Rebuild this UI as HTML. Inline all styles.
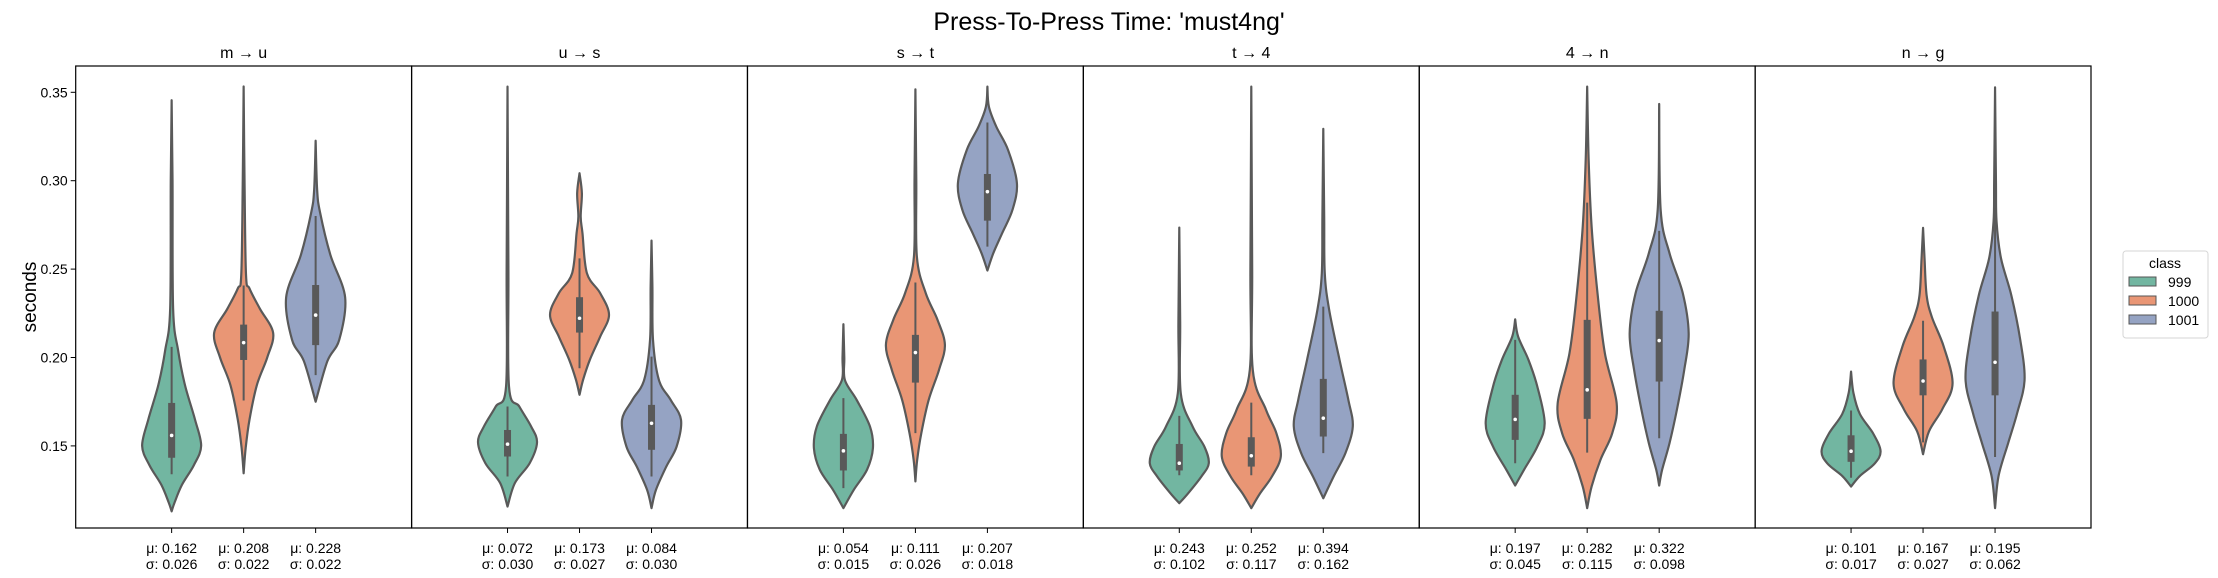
<!DOCTYPE html>
<html><head><meta charset="utf-8">
<style>
html,body{margin:0;padding:0;background:#fff;}
svg{display:block;font-family:"Liberation Sans","DejaVu Sans",sans-serif;}
</style></head>
<body>
<svg id="chart" width="2218" height="578" viewBox="0 0 2218 578" xmlns="http://www.w3.org/2000/svg">
<text x="1109" y="30" text-anchor="middle" font-size="25" fill="#000">Press-To-Press Time: 'must4ng'</text>
<text transform="translate(36,297) rotate(-90)" text-anchor="middle" font-size="19" fill="#000">seconds</text>
<g id="axes"></g>
<g id="legend">
<rect x="2123" y="251" width="85" height="87" rx="3" fill="#fff" stroke="#d6d6d6"/>
<text x="2165" y="268" text-anchor="middle" font-size="14">class</text>
<rect x="2129" y="277" width="27" height="9" fill="#72b6a1" stroke="#555"/>
<text x="2168" y="287" font-size="14">999</text>
<rect x="2129" y="296" width="27" height="9" fill="#e99675" stroke="#555"/>
<text x="2168" y="306" font-size="14">1000</text>
<rect x="2129" y="315" width="27" height="9" fill="#95a3c3" stroke="#555"/>
<text x="2168" y="325" font-size="14">1001</text>
</g>
</svg>
<script>
const panels = ["m → u","u → s","s → t","t → 4","4 → n","n → g"];
const classes = ["999","1000","1001"];
const yTicks = [0.15,0.20,0.25,0.30,0.35];
const means = [[0.162,0.208,0.228],[0.072,0.173,0.084],[0.054,0.111,0.207],[0.243,0.252,0.394],[0.197,0.282,0.322],[0.101,0.167,0.195]];
const sds = [[0.026,0.022,0.022],[0.030,0.027,0.030],[0.015,0.026,0.018],[0.102,0.117,0.162],[0.045,0.115,0.098],[0.017,0.027,0.062]];
// box stats: [whiskerLow, q1, median, q3, whiskerHigh]
const boxStats = [
 [[0.134,0.1433,0.1559,0.1743,0.206],[0.1757,0.1986,0.2084,0.2186,0.2407],[0.190,0.207,0.224,0.241,0.280]],
 [[0.1327,0.144,0.151,0.159,0.1723],[0.1939,0.2141,0.2222,0.2341,0.2561],[0.1327,0.1478,0.1628,0.1732,0.2005]],
 [[0.1261,0.1361,0.1472,0.1568,0.1770],[0.1572,0.1858,0.2028,0.2128,0.2424],[0.2627,0.2774,0.2938,0.3038,0.3329]],
 [[0.1334,0.1361,0.1402,0.1511,0.167],[0.1334,0.1383,0.1444,0.1549,0.1745],[0.1459,0.1553,0.1657,0.1879,0.2288]],
 [[0.1402,0.1534,0.165,0.1789,0.2100],[0.1462,0.1653,0.1817,0.2213,0.2876],[0.1543,0.1864,0.2096,0.2264,0.2716]],
 [[0.132,0.141,0.147,0.156,0.170],[0.152,0.1786,0.1867,0.1989,0.2208],[0.1437,0.1786,0.1973,0.226,0.2844]]
];
// density profiles: [value, relative half-width], ordered top to bottom
const profiles = [
 [
  [[0.3455,0],[0.30,0.03],[0.2276,0.05],[0.204,0.22],[0.1845,0.45],[0.165,0.79],[0.150,1],[0.139,0.75],[0.128,0.35],[0.118,0.1],[0.113,0]],
  [[0.3533,0],[0.30,0.03],[0.247,0.08],[0.239,0.2],[0.2276,0.55],[0.2139,1],[0.200,0.8],[0.1845,0.45],[0.165,0.2],[0.149,0.07],[0.1345,0]],
  [[0.3226,0],[0.295,0.05],[0.282,0.15],[0.258,0.5],[0.234,1],[0.210,0.8],[0.198,0.4],[0.175,0]]
 ],
 [
  [[0.3532,0],[0.25,0.03],[0.1836,0.05],[0.1723,0.4],[0.161,0.8],[0.152,1],[0.1402,0.75],[0.129,0.25],[0.1157,0]],
  [[0.3042,0],[0.2929,0.08],[0.2797,0.04],[0.2703,0.1],[0.2477,0.25],[0.2364,0.7],[0.2241,1],[0.2118,0.7],[0.1987,0.35],[0.1873,0.12],[0.1789,0]],
  [[0.2661,0],[0.24,0.03],[0.210,0.05],[0.1873,0.25],[0.176,0.65],[0.1647,1],[0.1496,0.85],[0.1383,0.5],[0.1251,0.15],[0.1148,0]]
 ],
 [
  [[0.2188,0],[0.20,0.03],[0.1873,0.05],[0.176,0.45],[0.161,0.9],[0.1487,1],[0.1365,0.8],[0.1251,0.35],[0.1148,0]],
  [[0.3517,0],[0.30,0.03],[0.257,0.05],[0.2364,0.35],[0.2213,0.75],[0.2071,1],[0.193,0.8],[0.176,0.45],[0.1572,0.2],[0.1421,0.06],[0.1299,0]],
  [[0.3532,0],[0.3419,0.05],[0.3306,0.3],[0.3174,0.7],[0.2986,1],[0.2835,0.85],[0.2703,0.5],[0.259,0.2],[0.2492,0]]
 ],
 [
  [[0.2735,0],[0.22,0.03],[0.1798,0.05],[0.161,0.45],[0.1496,0.85],[0.1402,1],[0.1327,0.75],[0.1232,0.3],[0.1176,0]],
  [[0.3532,0],[0.25,0.03],[0.193,0.05],[0.1704,0.5],[0.1572,0.85],[0.1440,1],[0.1327,0.7],[0.1232,0.3],[0.1148,0]],
  [[0.3293,0],[0.28,0.03],[0.2477,0.05],[0.2269,0.2],[0.1987,0.55],[0.176,0.85],[0.161,1],[0.1459,0.75],[0.1327,0.35],[0.1204,0]]
 ],
 [
  [[0.2216,0],[0.2118,0.1],[0.1987,0.45],[0.1836,0.75],[0.1628,1],[0.1496,0.75],[0.1365,0.3],[0.1276,0]],
  [[0.3532,0],[0.3118,0.05],[0.2741,0.15],[0.2364,0.35],[0.2024,0.6],[0.1741,1],[0.1572,0.85],[0.1421,0.45],[0.127,0.15],[0.1148,0]],
  [[0.3434,0],[0.2835,0.05],[0.259,0.35],[0.2364,0.8],[0.2137,1],[0.193,0.85],[0.1704,0.6],[0.1515,0.35],[0.1365,0.1],[0.1276,0]]
 ],
 [
  [[0.192,0],[0.180,0.08],[0.168,0.3],[0.157,0.75],[0.147,1],[0.140,0.8],[0.133,0.3],[0.127,0]],
  [[0.2733,0],[0.2562,0.05],[0.2353,0.12],[0.2228,0.3],[0.2062,0.7],[0.1853,1],[0.1707,0.65],[0.1582,0.2],[0.1453,0]],
  [[0.3528,0],[0.30,0.03],[0.2771,0.05],[0.2562,0.2],[0.2353,0.55],[0.2104,0.85],[0.1874,1],[0.1686,0.75],[0.1519,0.45],[0.1331,0.12],[0.1148,0]]
 ]
];
const fills = ["#72b6a1","#e99675","#95a3c3"];
const plotL = 75.7, plotR = 2091, plotT = 66, plotB = 528;
const panelW = (plotR - plotL) / panels.length;
const maxHalf = 29.5, dodge = 72;
function yScale(v){ return 92.3 + (0.35 - v) * 1768; }
function xCenter(p, c){ return plotL + panelW * p + panelW / 2 + (c - 1) * dodge; }
const NS = "http://www.w3.org/2000/svg";
const axes = document.getElementById("axes");
function mk(tag, attrs, parent){ const e = document.createElementNS(NS, tag); for (const k in attrs) e.setAttribute(k, attrs[k]); (parent||axes).appendChild(e); return e; }
function smoothPath(pts){
  let d = "M" + pts[0][0].toFixed(2) + "," + pts[0][1].toFixed(2);
  for (let i = 0; i < pts.length - 1; i++) {
    const p0 = pts[Math.max(0, i - 1)], p1 = pts[i], p2 = pts[i + 1], p3 = pts[Math.min(pts.length - 1, i + 2)];
    const c1x = p1[0] + (p2[0] - p0[0]) / 6, c1y = p1[1] + (p2[1] - p0[1]) / 6;
    const c2x = p2[0] - (p3[0] - p1[0]) / 6, c2y = p2[1] - (p3[1] - p1[1]) / 6;
    d += " C" + c1x.toFixed(2) + "," + c1y.toFixed(2) + " " + c2x.toFixed(2) + "," + c2y.toFixed(2) + " " + p2[0].toFixed(2) + "," + p2[1].toFixed(2);
  }
  return d;
}
// y ticks
yTicks.forEach(function(t){
  const y = yScale(t);
  const tk = mk("line", {x1: plotL - 5, x2: plotL, y1: y, y2: y, stroke: "#000", "stroke-width": 1});
  
  
  const tl = mk("text", {x: plotL - 8, y: y + 5, "text-anchor": "end", "font-size": 14});
  
  
  tl.textContent = t.toFixed(2);
});
panels.forEach(function(name, p){
  const x0 = plotL + panelW * p;
  const g = mk("g", {});
  
  
  const fr = mk("rect", {x: x0, y: plotT, width: panelW, height: plotB - plotT, fill: "none", stroke: "#000", "stroke-width": 1.2}, g);
  
  
  const pt = mk("text", {x: x0 + panelW / 2, y: 58, "text-anchor": "middle", "font-size": 16}, g);
  
  
  pt.textContent = name;
  classes.forEach(function(cls, c){
    const cx = xCenter(p, c);
    const prof = profiles[p][c];
    const right = prof.map(function(k){ return [cx + k[1] * maxHalf, yScale(k[0])]; });
    const left = prof.slice().reverse().map(function(k){ return [cx - k[1] * maxHalf, yScale(k[0])]; });
    let d = smoothPath(right);
    d += " L" + smoothPath(left).slice(1) + " Z";
    const v = mk("path", {d: d, fill: fills[c], stroke: "#595959", "stroke-width": 2.2, "stroke-linejoin": "round"}, g);
    
    
    const b = boxStats[p][c];
    const wl = mk("line", {x1: cx, x2: cx, y1: yScale(b[4]), y2: yScale(b[0]), stroke: "#595959", "stroke-width": 2}, g);
    
    
    const bx = mk("rect", {x: cx - 3.5, y: yScale(b[3]), width: 7, height: yScale(b[1]) - yScale(b[3]), fill: "#595959"}, g);
    
    
    const md = mk("circle", {cx: cx, cy: yScale(b[2]), r: 1.8, fill: "#fff"}, g);
    
    
    const xt = mk("line", {x1: cx, x2: cx, y1: plotB, y2: plotB + 5, stroke: "#000", "stroke-width": 1}, g);
    
    
    const l1 = mk("text", {x: cx, y: plotB + 25, "text-anchor": "middle", "font-size": 14}, g);
    
    
    l1.textContent = "μ: " + means[p][c].toFixed(3);
    const l2 = mk("text", {x: cx, y: plotB + 41, "text-anchor": "middle", "font-size": 14}, g);
    
    
    l2.textContent = "σ: " + sds[p][c].toFixed(3);
  });
});
</script>
</body></html>
